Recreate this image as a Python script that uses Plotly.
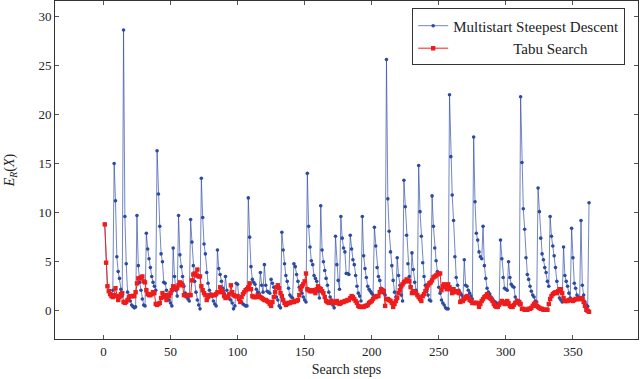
import plotly.graph_objects as go

# E_R(X) per search step
msd = [
    8.8, 4.9, 2.5, 2.0, 1.7, 1.5, 2.1, 15.0, 11.2, 5.5,
    4.0, 3.3, 2.2, 1.5, 28.6, 9.6, 4.8, 1.9, 1.3, 1.0,
    0.6, 0.45, 0.3, 0.4, 9.7, 4.6, 2.9, 2.1, 1.2, 0.6,
    0.5, 7.9, 6.3, 5.3, 4.4, 3.5, 2.9, 2.5, 2.1, 16.3,
    11.9, 8.6, 5.8, 5.0, 2.9, 2.8, 2.1, 1.6, 1.1, 0.8,
    0.5, 6.4, 3.5, 2.1, 1.5, 9.7, 5.7, 4.5, 3.5, 2.5,
    1.8, 1.4, 1.2, 1.0, 9.3, 7.0, 4.6, 3.0, 1.9, 1.1,
    0.6, 0.2, 13.5, 9.5, 6.8, 5.8, 3.9, 2.8, 2.1, 1.7,
    1.5, 1.0, 0.7, 0.5, 6.2, 4.3, 3.7, 3.0, 2.3, 1.8,
    3.5, 2.1, 1.6, 1.2, 1.1, 0.8, 0.2, 0.5, 2.8, 2.7,
    1.2, 1.0, 0.9, 0.7, 0.6, 0.5, 0.5, 11.5, 7.5, 4.5,
    3.2, 2.9, 2.7, 2.2, 1.9, 1.8, 3.9, 2.6, 1.9, 4.7,
    2.6, 2.0, 1.9, 1.8, 3.2, 2.8, 2.4, 2.0, 1.4, 1.1,
    0.5, 0.3, 8.0, 6.2, 4.8, 3.6, 3.0, 2.3, 1.6, 1.4,
    1.3, 4.8, 4.5, 3.7, 3.0, 2.4, 2.1, 1.8, 1.4, 1.1,
    0.9, 14.0, 8.6, 6.5, 5.1, 4.7, 3.6, 3.3, 3.0, 2.0,
    1.3, 10.7, 6.2, 5.0, 4.1, 3.3, 2.6, 1.9, 1.4, 1.1,
    0.6, 0.3, 7.6, 4.7, 3.1, 2.2, 9.6, 7.4, 6.4, 6.0,
    3.8, 3.8, 3.7, 7.7, 6.3, 5.2, 4.7, 3.6, 2.5, 1.8,
    1.5, 1.0, 9.6, 5.6, 4.3, 3.4, 2.5, 2.2, 2.0, 1.8,
    1.6, 8.5, 6.6, 4.4, 3.5, 3.1, 2.3, 2.0, 1.8, 1.6,
    25.6, 11.4, 8.1, 6.0, 4.6, 3.1, 1.9, 1.4, 5.4, 3.6,
    2.6, 1.6, 1.0, 13.3, 10.6, 7.7, 4.8, 3.5, 2.5, 5.9,
    4.2, 2.9, 2.1, 1.6, 14.8, 10.1, 7.6, 4.9, 3.5, 2.6,
    2.0, 1.6, 1.1, 1.0, 11.7, 8.6, 6.4, 5.1, 4.0, 2.4,
    1.8, 1.1, 0.8, 0.6, 0.3, 0.2, 0.2, 22.0, 15.7, 11.8,
    9.2, 5.5, 3.4, 2.6, 2.1, 1.8, 1.6, 1.3, 5.2, 2.6,
    2.5, 2.1, 1.8, 1.5, 1.2, 17.7, 11.1, 7.9, 7.2, 6.0,
    5.5, 5.3, 8.6, 4.6, 3.3, 2.3, 1.9, 1.7, 1.4, 1.2,
    1.0, 0.9, 0.8, 0.7, 0.6, 7.2, 5.3, 3.4, 2.3, 2.2,
    2.1, 5.0, 3.4, 2.7, 2.5, 2.4, 1.4, 1.1, 0.8, 0.6,
    21.8, 15.1, 10.4, 8.3, 5.4, 3.7, 3.2, 2.5, 2.0, 1.6,
    1.4, 1.0, 0.9, 12.5, 10.1, 7.4, 5.8, 5.2, 4.4, 3.9,
    3.0, 2.5, 9.6, 7.6, 6.6, 5.6, 4.4, 3.0, 2.0, 1.3,
    1.1, 0.9, 6.5, 3.6, 3.0, 2.5, 1.8, 1.3, 8.4, 5.4,
    2.8, 2.3, 1.6, 1.4, 1.2, 9.2, 2.6, 1.6, 0.9, 0.6,
    0.45, 11.0,
]

tabu = [
    8.8, 4.9, 2.5, 2.0, 1.7, 1.5, 1.4, 1.6, 2.3, 1.5,
    1.1, 1.4, 1.7, 1.8, 0.9, 0.8, 0.9, 1.1, 1.4, 1.5,
    1.5, 1.5, 1.5, 1.9, 2.8, 3.3, 3.3, 3.4, 3.5, 3.0,
    2.9, 2.1, 1.7, 1.6, 1.6, 1.7, 1.9, 1.8, 0.7, 0.6,
    0.7, 0.8, 1.3, 1.8, 1.6, 1.4, 1.1, 1.6, 1.5, 1.8,
    2.1, 2.5, 2.4, 2.3, 2.3, 2.6, 2.9, 2.8, 2.6, 1.6,
    1.6, 1.5, 1.6, 1.6, 1.6, 3.1, 3.7, 3.8, 3.6, 4.2,
    3.5, 3.5, 2.5, 2.1, 1.8, 1.6, 1.1, 1.4, 1.6, 1.6,
    1.6, 1.6, 1.6, 1.7, 1.9, 1.9, 2.4, 2.1, 1.9, 1.5,
    1.3, 1.4, 1.4, 1.7, 2.6, 1.9, 1.6, 1.5, 1.5, 1.5,
    1.2, 0.9, 1.4, 1.7, 1.9, 2.1, 2.2, 2.4, 2.8, 2.2,
    1.5, 1.4, 1.4, 1.4, 1.6, 1.5, 1.4, 1.3, 1.2, 1.1,
    1.1, 1.0, 0.9, 0.7, 0.5, 0.9, 1.4, 1.9, 2.4, 2.6,
    2.3, 1.8, 1.5, 1.1, 0.8, 0.6, 0.7, 0.8, 0.8, 0.9,
    0.9, 0.9, 1.0, 1.0, 1.1, 1.6, 2.2, 2.5, 2.7, 3.0,
    3.8, 2.2, 2.1, 2.0, 2.0, 2.1, 2.0, 1.8, 2.2, 2.5,
    2.3, 2.2, 2.0, 1.8, 1.4, 1.0, 0.9, 0.8, 0.9, 1.0,
    0.9, 0.8, 0.9, 1.0, 0.8, 0.7, 0.8, 0.9, 0.9, 1.0,
    1.0, 1.1, 1.1, 1.3, 1.5, 1.4, 1.2, 1.0, 0.8, 0.5,
    0.4, 0.4, 0.4, 0.4, 0.5, 0.5, 0.6, 0.8, 0.9, 1.0,
    1.2, 1.4, 1.4, 1.5, 1.5, 1.9, 2.2, 2.1, 2.0, 0.5,
    1.2, 1.2, 1.1, 1.0, 0.8, 0.4, 0.7, 1.0, 1.3, 1.8,
    2.1, 2.5, 2.7, 2.9, 3.0, 3.2, 3.1, 3.0, 2.4, 1.8,
    2.0, 1.9, 1.8, 1.6, 1.4, 1.2, 1.0, 1.5, 1.7, 2.0,
    2.3, 2.6, 2.8, 2.9, 3.1, 3.4, 3.5, 3.6, 3.7, 3.8,
    3.8, 2.1, 2.5, 2.7, 2.4, 2.2, 2.7, 2.4, 2.2, 1.8,
    2.2, 2.0, 1.9, 2.0, 1.8, 0.9, 1.0, 1.0, 1.2, 1.4,
    1.5, 1.3, 1.1, 1.0, 0.8, 0.8, 0.8, 0.8, 0.8, 0.4,
    0.7, 1.0, 1.2, 1.4, 1.5, 1.7, 1.4, 1.3, 1.2, 1.0,
    0.7, 0.5, 0.4, 0.4, 0.6, 0.8, 1.0, 0.9, 0.7, 0.7,
    1.0, 0.8, 0.5, 0.4, 0.4, 0.6, 0.8, 0.9, 1.0, 0.9,
    0.7, 0.2, 0.2, 0.1, 0.1, 0.1, 0.2, 0.2, 0.3, 0.5,
    0.7, 0.8, 0.5, 0.4, 0.3, 0.2, 0.2, 0.1, 0.1, 0.1,
    0.1, 0.7, 1.2, 1.5, 1.7, 1.8, 1.9, 1.8, 2.0, 2.2,
    2.2, 1.8, 1.3, 1.0, 1.0, 1.0, 1.1, 1.1, 1.1, 1.0,
    1.1, 1.2, 1.2, 1.2, 1.2, 1.3, 1.2, 0.9, 0.5, 0.1,
    0.0, -0.1,
]

steps = list(range(1, len(msd) + 1))

x_ticks = [0, 50, 100, 150, 200, 250, 300, 350]
y_ticks = [0, 5, 10, 15, 20, 25, 30]

FONT = "Liberation Serif, Times New Roman, serif"
NB = "\u00a0"

fig = go.Figure()
fig.add_trace(go.Scatter(
    x=steps, y=msd, mode="lines+markers",
    name="Multistart Steepest Descent",
    line=dict(color="rgba(45,75,165,0.75)", width=0.9),
    marker=dict(symbol="circle", size=3.6, color="#2b4aa0"),
))
fig.add_trace(go.Scatter(
    x=steps, y=tabu, mode="lines+markers",
    name=NB * 16 + "Tabu Search",
    line=dict(color="#f02020", width=1),
    marker=dict(symbol="square", size=4.4, color="#ee1c1c"),
))

axis_common = dict(
    showline=True, linecolor="#333", linewidth=1, mirror="allticks",
    ticks="inside", ticklen=4, tickcolor="#555", tickwidth=1,
    showgrid=False, zeroline=False,
    tickfont=dict(family=FONT, size=13, color="#222"),
)

fig.update_layout(
    width=640, height=379,
    margin=dict(l=55, r=2, t=1, b=40),
    paper_bgcolor="white", plot_bgcolor="white",
    font=dict(family=FONT, size=13, color="#222"),
    xaxis=dict(range=[-36.1, 398.5], tickvals=x_ticks,
               title=dict(text="Search steps", font=dict(family=FONT, size=14), standoff=6),
               **axis_common),
    yaxis=dict(range=[-2.87, 31.55], tickvals=y_ticks,
               title=dict(text="<i>E</i><sub><i>R</i></sub>(<i>X</i>)",
                          font=dict(family=FONT, size=14), standoff=20),
               **axis_common),
    legend=dict(
        x=0.978, y=0.978, xanchor="right", yanchor="top",
        bgcolor="white", bordercolor="#333", borderwidth=1,
        font=dict(family=FONT, size=15, color="#222"),
        tracegroupgap=0, itemwidth=30,
    ),
)

# page body margin would shift the 640x379 figure inside the window
fig.write_html("out.html", config={"displayModeBar": False},
               post_script="document.body.style.margin='0';")
